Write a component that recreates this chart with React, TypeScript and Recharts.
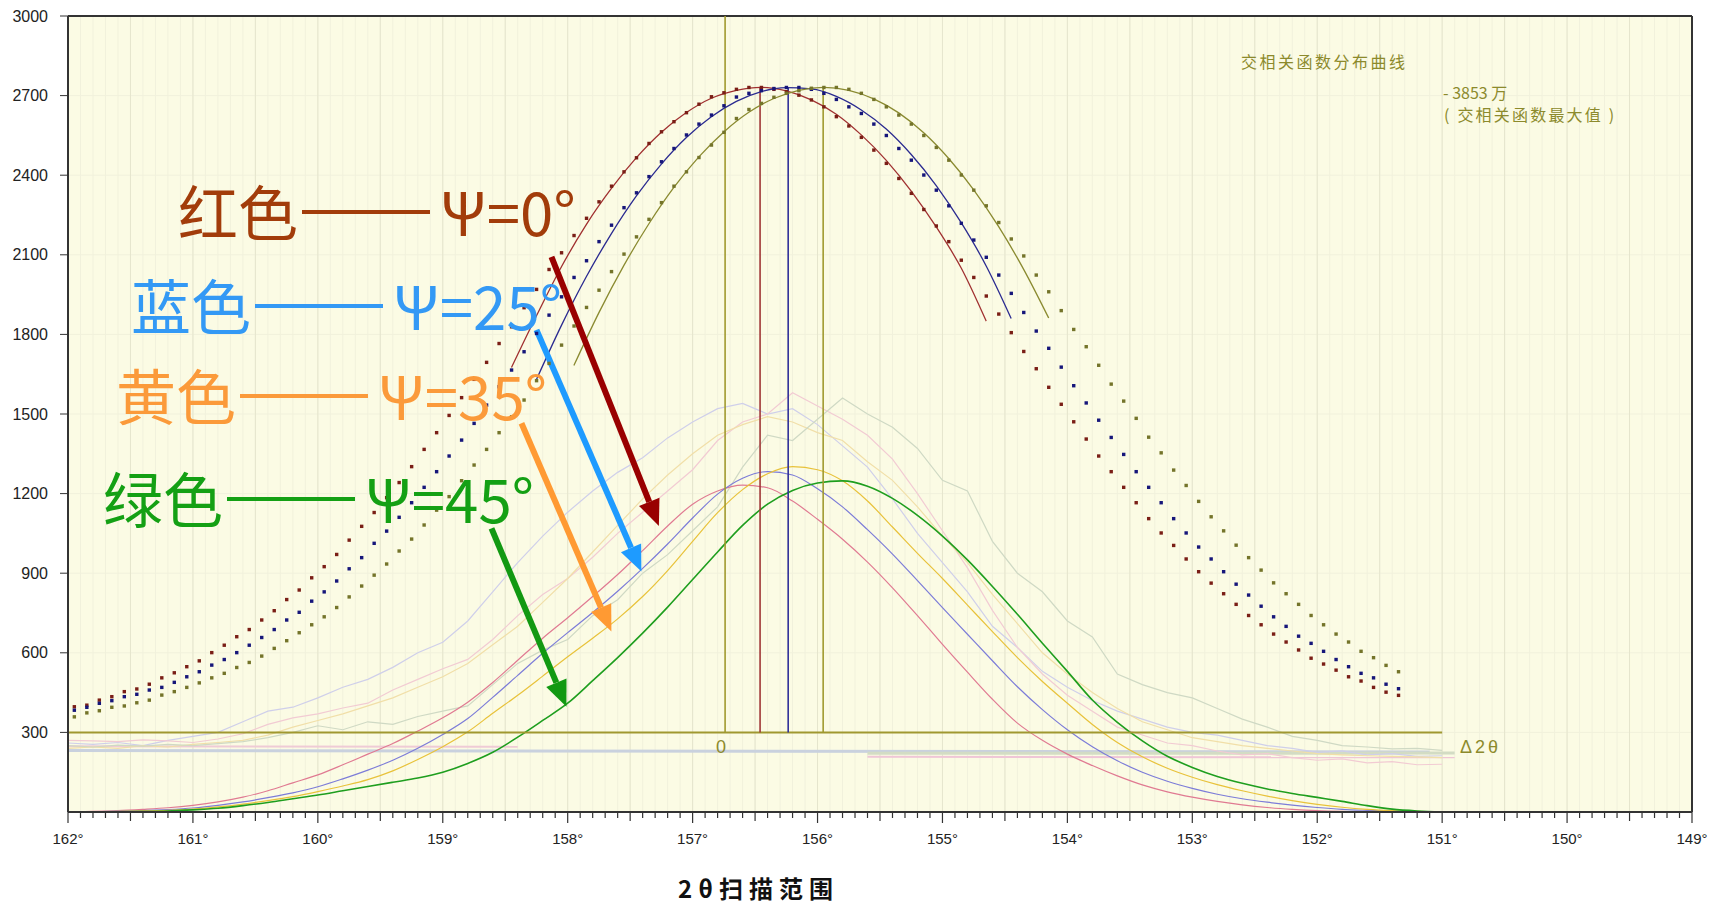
import React from "react";
import { LineChart, Line, XAxis, YAxis, CartesianGrid, ReferenceLine } from "recharts";

// 2θ scan grid: dotted correlation curves every 0.1°, profiles every 0.2°
const dotStart = 161.95;
const dotStep = 0.1;
const profileStart = 162;
const profileStep = 0.2;

// cross-correlation distribution (dots), ψ = 0° / 25° / 35°(olive)
const redDots = [
  397, 403, 422, 435, 454, 464, 482, 506, 525, 548, 570, 601, 629, 661, 688, 724, 759, 801, 837, 883,
  925, 971, 1025, 1077, 1129, 1185, 1242, 1302, 1367, 1430, 1495, 1562, 1631, 1695, 1766,
  1829, 1901, 1970, 2045, 2108, 2173, 2238, 2300, 2359, 2413, 2466, 2520, 2564, 2602, 2636, 2668, 2696,
  2711, 2724, 2731, 2731,
  2724, 2715, 2702, 2684, 2658, 2621, 2586, 2543, 2495, 2445, 2388, 2332, 2271, 2209, 2150, 2080, 2015, 1945,
  1877, 1807, 1736, 1671, 1601, 1537, 1471, 1406, 1342, 1283, 1224, 1166, 1106, 1052, 1005, 954, 906, 863,
  823, 783, 741, 706, 671, 641, 611, 580, 558, 535, 510, 494, 470, 452, 440,
];
const blueDots = [
  384, 395, 410, 420, 435, 444, 460, 470, 489, 510, 529, 554, 575, 601, 629, 658, 688, 724, 753, 795,
  830, 871, 917, 959, 1013, 1059, 1111, 1166, 1224, 1283, 1342, 1402, 1465,
  1534, 1603, 1666, 1735, 1804, 1873, 1942, 2015, 2078, 2150, 2212, 2278, 2334, 2395, 2451, 2501, 2552,
  2593, 2627, 2662, 2695,
  2709, 2719, 2727, 2731, 2731, 2724, 2709, 2686, 2658, 2633, 2593, 2550, 2501, 2457, 2401, 2344, 2285,
  2219, 2156, 2091, 2024, 1955,
  1883, 1813, 1748, 1677, 1607, 1542, 1477, 1412, 1348, 1283, 1224, 1166, 1106, 1052, 999, 954, 906, 859,
  818, 776, 736, 700, 663, 636, 606, 575, 548, 523, 506, 482, 465,
];
const oliveDots = [
  359, 374, 382, 395, 400, 412, 422, 441, 454, 470, 487, 506, 523, 545, 564, 588, 617, 646, 676, 706,
  736, 771, 811, 852, 893, 935, 984, 1029, 1082, 1138, 1189, 1249, 1308, 1367, 1430, 1490, 1553,
  1626, 1691, 1760, 1832, 1902, 1967, 2037, 2103, 2168, 2234, 2297, 2359, 2413, 2467, 2514, 2562,
  2614, 2648, 2671, 2694, 2709, 2719, 2728, 2731, 2731, 2724, 2709, 2686, 2658, 2627, 2593, 2550, 2505,
  2457, 2401, 2344, 2285, 2222, 2160, 2096, 2024, 1961,
  1890, 1819, 1754, 1684, 1613, 1549, 1484, 1413, 1354, 1289, 1231, 1171, 1113, 1060, 1006, 959, 912, 864,
  823, 783, 741, 706, 671, 641, 606, 582, 553, 529,
];

// fitted peak curves (solid), every 0.2°
const redFitStart = 158.45;
const redFit = [1675, 1870, 2055, 2215, 2350, 2466, 2562, 2636, 2690, 2720, 2731, 2718, 2684, 2630, 2552, 2456, 2340, 2205, 2050, 1850];
const blueFitStart = 158.25;
const blueFit = [1630, 1834, 2018, 2180, 2322, 2442, 2542, 2620, 2678, 2715, 2730, 2725, 2697, 2646, 2574, 2478, 2361, 2221, 2058, 1860];
const oliveFitStart = 157.95;
const oliveFit = [1683, 1882, 2060, 2217, 2354, 2469, 2563, 2637, 2689, 2720, 2731, 2720, 2688, 2635, 2560, 2463, 2345, 2206, 2045, 1862];

// smoothed diffraction profiles ψ = 0 / 25 / 35 / 45°
const pinkProfile = [
  0, 2, 5, 10, 16, 25, 38, 56, 80, 110, 140, 178, 218, 258, 305, 355, 414, 488, 572, 655,
  732, 812, 895, 985, 1078, 1160, 1210, 1232, 1222, 1172, 1103, 1028, 942, 845, 740, 632, 527, 425, 335, 270,
  218, 175, 136, 102, 76, 56, 40, 27, 17, 10, 5, 2, 0, 0, 0, 0,
];
const blueProfile = [
  0, 1, 3, 5, 9, 15, 25, 38, 54, 72, 95, 125, 158, 195, 240, 292, 352, 432, 515, 598,
  676, 752, 832, 918, 1010, 1108, 1198, 1258, 1283, 1270, 1218, 1150, 1064, 972, 872, 770, 670, 570, 472, 386,
  310, 246, 193, 150, 116, 89, 67, 50, 37, 26, 17, 10, 6, 3, 1, 0,
];
const yellowProfile = [
  0, 1, 2, 4, 6, 11, 19, 30, 43, 58, 77, 98, 122, 155, 198, 246, 302, 372, 440, 512,
  585, 655, 728, 812, 910, 1020, 1128, 1215, 1275, 1302, 1290, 1248, 1172, 1074, 975, 880, 780, 680, 582, 492,
  410, 330, 262, 208, 165, 131, 103, 80, 60, 43, 29, 18, 10, 5, 2, 0,
];
const greenProfile = [
  0, 0, 1, 2, 4, 8, 14, 24, 36, 50, 64, 80, 96, 112, 128, 150, 183, 225, 282, 345,
  410, 495, 582, 674, 772, 876, 980, 1080, 1160, 1212, 1240, 1248, 1228, 1182, 1118, 1040, 950, 850, 745, 636,
  530, 422, 338, 268, 210, 168, 134, 108, 87, 70, 55, 40, 24, 11, 4, 0,
];

// raw (unsmoothed) profiles, drawn faint
const rawLavender = [
  260, 255, 262, 250, 270, 285, 300, 340, 380, 395, 430, 470, 500, 545, 600, 640, 720, 830, 940, 1040,
  1130, 1210, 1280, 1335, 1410, 1470, 1520, 1540, 1500, 1520, 1460, 1380, 1300, 1180, 1050, 940, 830, 700, 620, 530,
  470, 420, 380, 350, 320, 300, 290, 270, 250, 240, 225, 230, 215, 220, 210, 212,
];
const rawPink = [
  270, 268, 265, 272, 268, 262, 275, 295, 330, 355, 370, 392, 410, 460, 500, 540, 575, 650, 740, 820,
  880, 960, 1050, 1130, 1210, 1290, 1400, 1470, 1500, 1580, 1530, 1480, 1420, 1330, 1200, 1060, 920, 760, 620, 520,
  440, 380, 320, 290, 260, 250, 230, 215, 220, 205, 195, 200, 185, 190, 178, 180,
];
const rawYellow = [
  240, 245, 240, 250, 245, 255, 262, 270, 290, 320, 345, 370, 400, 430, 470, 510, 560, 630, 700, 790,
  880, 980, 1080, 1180, 1270, 1350, 1420, 1460, 1490, 1470, 1430, 1400, 1320, 1250, 1150, 1040, 940, 820, 710, 600,
  520, 450, 390, 340, 310, 280, 265, 250, 240, 230, 220, 215, 212, 210, 208, 205,
];
const rawGreen = [
  250, 245, 252, 248, 255, 250, 258, 265, 280, 300, 325, 310, 340, 330, 360, 380, 400, 480, 560, 610,
  650, 740, 800, 900, 970, 1060, 1150, 1300, 1420, 1400, 1480, 1560, 1500, 1450, 1370, 1250, 1210, 1020, 900, 830,
  720, 660, 520, 480, 450, 430, 390, 350, 320, 285, 270, 250, 245, 238, 240, 232,
];

// faint background levels (angle, value)
const baseBlue = [{ x: 162, y: 232 }, { x: 151.1, y: 226 }];
const basePinkLeft = [{ x: 162, y: 248 }, { x: 158.4, y: 246 }];
const basePinkRight = [{ x: 155.6, y: 208 }, { x: 150.9, y: 206 }];
const baseGreen = [{ x: 155.6, y: 221 }, { x: 150.9, y: 222 }];

// peak position markers: angle and top value; zero line at 300
const markerAngles = [156.74, 156.46, 156.235, 155.955];
const markerTops = [3000, 2731, 2731, 2725];
const markerColors = ["#a09a30", "#a03838", "#303098", "#a09a30"];
const zeroLevel = 300;
const zeroLineEnd = 151;

// annotation arrows [from angle, from value, to angle, to value]
const arrowFrom = [[158.13, 2092], [158.25, 1817], [158.37, 1465], [158.61, 1069]];
const arrowTo = [[157.27, 1078], [157.41, 906], [157.65, 680], [158.01, 397]];
const arrowColors = ["#990000", "#1e9bff", "#ff9a33", "#129912"];

const yTicks = [300, 600, 900, 1200, 1500, 1800, 2100, 2400, 2700, 3000];
const xTicks: number[] = [];
for (let i = 0; i <= 130; i++) xTicks.push(Math.round((149 + i * 0.1) * 10) / 10);
const halfGrid: number[] = [];
for (let v = 149.5; v < 162; v += 0.5) halfGrid.push(v);

const toPoints = (start: number, step: number, ys: number[]) =>
  ys.map((y, i) => ({ x: Math.round((start - i * step) * 1000) / 1000, y }));

const XTick = (props: any) => {
  const { x, y, payload } = props;
  const t = Math.round(payload.value * 10);
  const major = t % 10 === 0;
  const len = major ? 11 : t % 5 === 0 ? 9 : 6;
  return (
    <g>
      <line x1={x} x2={x} y1={y} y2={y + len} stroke="#333" strokeWidth={1.2} />
      {major && (
        <text x={x} y={y + 32} textAnchor="middle" fontSize={15} fill="#222" fontFamily="Liberation Sans, Arial, sans-serif">
          {`${Math.round(payload.value)}°`}
        </text>
      )}
    </g>
  );
};

const squareDot = (color: string) => (p: any) => {
  if (p.cx == null || p.cy == null) return <g key={`e-${p.index}`} />;
  return <rect key={`sq-${color}-${p.index}`} x={p.cx - 1.6} y={p.cy - 1.6} width={3.4} height={3.4} fill={color} />;
};

const arrowShape = (color: string) => (p: any) => {
  const { x1, y1, x2, y2 } = p;
  const dx = x2 - x1;
  const dy = y2 - y1;
  const len = Math.hypot(dx, dy) || 1;
  const ux = dx / len;
  const uy = dy / len;
  const head = 26;
  const half = 11;
  const bx = x2 - ux * head;
  const by = y2 - uy * head;
  return (
    <g>
      <line x1={x1} y1={y1} x2={bx} y2={by} stroke={color} strokeWidth={6} />
      <polygon points={`${x2},${y2} ${bx - uy * half},${by + ux * half} ${bx + uy * half},${by - ux * half}`} fill={color} />
    </g>
  );
};

const notes = [
  { name: "红色", psi: "Ψ=0°", color: "#a23c0a", left: 178, top: 179 },
  { name: "蓝色", psi: "Ψ=25°", color: "#3399f5", left: 131, top: 273 },
  { name: "黄色", psi: "Ψ=35°", color: "#fb9a3a", left: 116, top: 363 },
  { name: "绿色", psi: "Ψ=45°", color: "#14a014", left: 103, top: 466 },
];

export default function App() {
  const olive = "#8c8a2c";
  return (
    <div style={{ position: "absolute", left: 0, top: 0, width: 1714, height: 903, background: "#fff" }}>
      <LineChart width={1714} height={903} margin={{ top: 16, right: 22, bottom: 31, left: 0 }}>
        <CartesianGrid fill="#fbfbe4" stroke="#f1f1dc" />
        {halfGrid.map((v) => (
          <ReferenceLine key={`g${v}`} x={v} stroke="#e5e5cd" />
        ))}
        <XAxis
          type="number"
          dataKey="x"
          domain={[149, 162]}
          reversed
          ticks={xTicks}
          interval={0}
          tickSize={0}
          tickMargin={0}
          tickLine={false}
          tick={XTick}
          height={60}
          axisLine={{ stroke: "#333", strokeWidth: 2 }}
          allowDataOverflow
        />
        <YAxis
          type="number"
          domain={[0, 3000]}
          ticks={yTicks}
          interval={0}
          width={68}
          tickSize={8}
          tickMargin={12}
          axisLine={{ stroke: "#333", strokeWidth: 2 }}
          tickLine={{ stroke: "#333" }}
          tick={{ fontSize: 16, fill: "#222", fontFamily: "Liberation Sans, Arial, sans-serif" }}
          allowDataOverflow
        />
        <ReferenceLine y={3000} stroke="#333" strokeWidth={2} />
        <ReferenceLine x={149} stroke="#333" strokeWidth={2} />

        <Line data={baseBlue} dataKey="y" stroke="#c9d1de" strokeWidth={3} dot={false} isAnimationActive={false} />
        <Line data={basePinkLeft} dataKey="y" stroke="#efcbd6" strokeWidth={2} dot={false} isAnimationActive={false} />
        <Line data={basePinkRight} dataKey="y" stroke="#efc6d6" strokeWidth={2} dot={false} isAnimationActive={false} />
        <Line data={baseGreen} dataKey="y" stroke="#d3dcc4" strokeWidth={3} dot={false} isAnimationActive={false} />

        <Line data={toPoints(profileStart, profileStep, rawLavender)} dataKey="y" type="linear" stroke="#cfcfea" strokeWidth={1.2} dot={false} isAnimationActive={false} />
        <Line data={toPoints(profileStart, profileStep, rawPink)} dataKey="y" type="linear" stroke="#f2cbd3" strokeWidth={1.2} dot={false} isAnimationActive={false} />
        <Line data={toPoints(profileStart, profileStep, rawYellow)} dataKey="y" type="linear" stroke="#f1dfa8" strokeWidth={1.2} dot={false} isAnimationActive={false} />
        <Line data={toPoints(profileStart, profileStep, rawGreen)} dataKey="y" type="linear" stroke="#cfd9c4" strokeWidth={1.2} dot={false} isAnimationActive={false} />

        <Line data={toPoints(profileStart, profileStep, pinkProfile)} dataKey="y" type="monotone" stroke="#e07a92" strokeWidth={1.2} dot={false} isAnimationActive={false} />
        <Line data={toPoints(profileStart, profileStep, blueProfile)} dataKey="y" type="monotone" stroke="#7c7cd8" strokeWidth={1.2} dot={false} isAnimationActive={false} />
        <Line data={toPoints(profileStart, profileStep, yellowProfile)} dataKey="y" type="monotone" stroke="#e8c23a" strokeWidth={1.2} dot={false} isAnimationActive={false} />
        <Line data={toPoints(profileStart, profileStep, greenProfile)} dataKey="y" type="monotone" stroke="#1e9e1e" strokeWidth={1.6} dot={false} isAnimationActive={false} />

        <ReferenceLine segment={[{ x: 162, y: zeroLevel }, { x: zeroLineEnd, y: zeroLevel }]} stroke="#a09830" strokeWidth={2} />
        {markerAngles.map((a, i) => (
          <ReferenceLine
            key={`m${i}`}
            segment={[{ x: a, y: zeroLevel }, { x: a, y: markerTops[i] }]}
            stroke={markerColors[i]}
            strokeWidth={1.6}
          />
        ))}

        <Line data={toPoints(redFitStart, profileStep, redFit)} dataKey="y" type="monotone" stroke="#a03030" strokeWidth={1.3} dot={false} isAnimationActive={false} />
        <Line data={toPoints(blueFitStart, profileStep, blueFit)} dataKey="y" type="monotone" stroke="#2a2a90" strokeWidth={1.3} dot={false} isAnimationActive={false} />
        <Line data={toPoints(oliveFitStart, profileStep, oliveFit)} dataKey="y" type="monotone" stroke="#8a8a30" strokeWidth={1.3} dot={false} isAnimationActive={false} />

        <Line data={toPoints(dotStart, dotStep, redDots)} dataKey="y" stroke="none" dot={squareDot("#7a1e16")} isAnimationActive={false} />
        <Line data={toPoints(dotStart, dotStep, blueDots)} dataKey="y" stroke="none" dot={squareDot("#16167a")} isAnimationActive={false} />
        <Line data={toPoints(dotStart, dotStep, oliveDots)} dataKey="y" stroke="none" dot={squareDot("#74742a")} isAnimationActive={false} />

        {arrowFrom.map((f, i) => (
          <ReferenceLine
            key={`a${i}`}
            segment={[{ x: f[0], y: f[1] }, { x: arrowTo[i][0], y: arrowTo[i][1] }]}
            shape={arrowShape(arrowColors[i])}
            ifOverflow="visible"
          />
        ))}
      </LineChart>

      {notes.map((n) => (
        <div
          key={n.name}
          style={{
            position: "absolute",
            left: n.left,
            top: n.top,
            display: "flex",
            alignItems: "center",
            color: n.color,
            fontFamily: "'Noto Sans CJK SC', sans-serif",
            fontSize: 60,
            lineHeight: "62px",
            whiteSpace: "nowrap",
          }}
        >
          <span>{n.name}</span>
          <span style={{ display: "inline-block", width: 128, height: 4, background: n.color, margin: "4px 10px 0 4px" }} />
          <span>{n.psi}</span>
        </div>
      ))}

      <div style={{ position: "absolute", left: 1241, top: 49, color: olive, fontSize: 16, letterSpacing: 2.5, fontFamily: "'Noto Sans CJK SC', sans-serif", whiteSpace: "nowrap" }}>
        交相关函数分布曲线
      </div>
      <div style={{ position: "absolute", left: 1443, top: 80, color: olive, fontSize: 16, fontFamily: "'Liberation Sans Narrow', 'Noto Sans CJK SC', sans-serif", whiteSpace: "nowrap" }}>
        - 3853 万
      </div>
      <div style={{ position: "absolute", left: 1444, top: 102, color: olive, fontSize: 16, letterSpacing: 2.2, fontFamily: "'Noto Sans CJK SC', sans-serif", whiteSpace: "nowrap" }}>
        ( 交相关函数最大值 )
      </div>
      <div style={{ position: "absolute", left: 716, top: 737, color: olive, fontSize: 18, fontFamily: "'Liberation Sans Narrow', sans-serif" }}>0</div>
      <div style={{ position: "absolute", left: 1460, top: 737, color: olive, fontSize: 18, letterSpacing: 3, fontFamily: "'Liberation Sans Narrow', sans-serif" }}>Δ2θ</div>
      <div style={{ position: "absolute", left: 678, top: 870, color: "#111", fontSize: 24, fontWeight: 700, letterSpacing: 6, fontFamily: "'Noto Sans CJK SC', sans-serif", whiteSpace: "nowrap" }}>
        2θ扫描范围
      </div>
    </div>
  );
}
